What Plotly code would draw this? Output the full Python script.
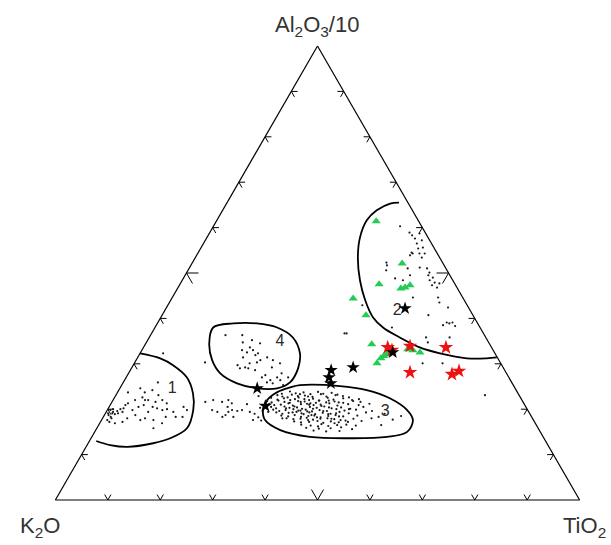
import plotly.graph_objects as go

# All compositions in % : a = Al2O3/10, c = TiO2, K2O = 100 - a - c
FIELD1_A = [32.3, 31.2, 29.7, 27.0, 23.5, 19.8, 15.8, 13.6, 12.5, 11.7, 12.1, 13.0]
FIELD1_C = [0.0, 4.4, 7.6, 11.6, 14.5, 16.4, 17.2, 15.1, 12.4, 7.9, 4.4, 1.3]
FIELD2_A = [65.5, 65.3, 63.8, 61.6, 57.8, 53.4, 48.4, 44.0, 40.2, 38.0, 35.8, 33.6, 32.3, 31.2, 31.2, 31.4]
FIELD2_C = [32.8, 31.2, 29.4, 28.6, 29.2, 31.0, 33.9, 37.1, 40.5, 43.5, 47.8, 52.7, 57.2, 62.9, 66.7, 68.5]
FIELD3_A = [25.3, 25.1, 24.2, 22.4, 19.8, 17.6, 15.0, 13.9, 13.6, 13.9, 15.4, 17.6, 19.8, 22.0, 23.7, 24.8, 25.3]
FIELD3_C = [34.0, 41.7, 47.3, 52.6, 57.2, 59.4, 59.6, 56.3, 49.4, 41.6, 35.2, 31.2, 29.7, 29.4, 30.4, 32.4, 34.0]
FIELD4_A = [38.0, 38.9, 38.9, 38.0, 35.8, 32.3, 29.0, 25.9, 24.6, 24.6, 25.7, 27.9, 30.8, 34.5, 38.0]
FIELD4_C = [11.1, 14.5, 19.0, 23.3, 27.4, 30.5, 31.8, 31.8, 30.0, 26.2, 21.8, 17.5, 14.5, 12.1, 11.1]

FIELD_LABELS = ["1", "2", "3", "4"]
LABEL_A = [24.4, 41.6, 19.4, 34.7]
LABEL_C = [10.1, 44.4, 53.2, 25.5]

# Sample groups
GREEN_A = [61.4, 52.1, 47.5, 46.6, 46.8, 47.3, 44.4, 40.7, 34.3, 30.1, 31.2, 31.7, 32.1, 32.5, 33.2, 33.0, 32.5]
GREEN_C = [30.5, 40.1, 38.0, 42.6, 43.3, 44.0, 34.6, 38.9, 43.2, 46.3, 46.5, 46.8, 47.2, 47.6, 50.6, 51.7, 53.3]
RED_A = [33.6, 33.0, 33.9, 33.6, 28.1, 27.7, 28.4]
RED_C = [46.6, 47.7, 50.7, 57.7, 53.6, 61.8, 62.8]
BLACK_A = [42.2, 32.5, 29.2, 28.6, 27.0, 25.7, 24.6, 20.7]
BLACK_C = [45.6, 48.1, 42.2, 38.3, 38.7, 39.7, 26.2, 29.7]

# Reference population (small dots)
DOT1_A = [23.7, 24.6, 23.7, 24.2, 23.1, 22.6, 22.0, 22.0, 21.6, 22.0, 21.3, 20.9, 20.5, 20.5, 20.2,
          19.8, 19.4, 20.0, 19.4, 19.8, 21.3, 18.7, 18.0, 17.6, 18.3, 17.6, 18.3, 19.8, 16.9, 18.0,
          17.2, 16.9, 18.3, 22.0, 25.9, 32.3, 20.5, 19.8, 19.4, 19.6, 19.1, 19.1, 20.0, 18.9, 19.1,
          19.4, 20.2, 20.9, 20.0, 18.7, 17.6, 17.2, 18.0, 18.3, 15.8]
DOT1_C = [2.0, 3.9, 5.2, 6.4, 8.1, 5.3, 4.2, 6.7, 8.3, 9.4, 10.6, 6.4, 5.6, 8.3, 9.3,
          10.5, 8.0, 11.3, 12.8, 4.8, 3.2, 5.9, 8.1, 7.4, 11.9, 9.9, 15.1, 15.2, 11.9, 4.7,
          4.2, 2.9, 1.4, 6.1, 6.6, 4.4, 14.2, 0.6, 1.3, 2.0, 2.4, 1.3, 2.4, 1.9, 0.5,
          3.1, 2.9, 2.9, 1.0, 0.8, 1.1, 1.7, 1.7, 13.8, 10.8]
DOT_MID_A = [30.3, 21.6, 22.0, 21.6, 19.8, 19.4, 18.7, 19.8, 19.6, 19.8, 22.0, 17.6, 20.5, 21.3,
             18.3, 19.4, 18.3, 19.4, 21.1, 36.7, 22.9]
DOT_MID_C = [13.4, 17.8, 19.1, 21.0, 20.0, 21.2, 23.1, 23.8, 24.9, 25.7, 22.0, 28.9, 22.6, 23.0,
             22.7, 27.4, 24.8, 23.3, 26.0, 36.8, 27.3]
DOT4_A = [36.3, 36.3, 34.7, 33.6, 33.0, 32.5, 33.0, 32.3, 30.8, 30.3, 31.4, 30.1, 31.4, 30.8, 30.1,
          29.2, 27.5, 26.4, 27.0, 27.9, 26.4, 25.9, 27.0, 29.7, 29.0, 28.6, 34.5, 35.2, 29.0, 27.0,
          25.7, 25.3, 31.9, 29.2]
DOT4_C = [14.3, 17.5, 18.4, 20.3, 19.1, 20.3, 21.2, 22.5, 23.7, 23.3, 20.1, 22.0, 24.7, 26.1, 27.8,
          26.7, 26.3, 27.8, 28.8, 29.2, 29.7, 27.4, 30.9, 19.9, 22.3, 23.8, 21.8, 19.9, 20.7, 25.9,
          28.6, 30.8, 22.2, 21.6]
DOT2_A = [60.3, 58.9, 58.3, 57.6, 58.7, 57.2, 56.5, 55.6, 55.4, 54.5, 54.3, 54.3, 54.3, 53.4, 53.9,
          52.3, 51.7, 50.6, 51.2, 51.0, 50.1, 49.5, 49.0, 48.4, 47.9, 47.3, 46.8, 47.7, 48.8, 48.4,
          49.5, 51.0, 44.6, 43.5, 42.4, 44.6, 39.1, 38.9, 39.1, 38.5, 38.3, 40.7, 38.0, 36.7, 42.9,
          35.8, 34.7, 35.8, 30.1, 30.1, 23.1]
DOT2_C = [35.6, 38.1, 38.9, 39.8, 40.1, 41.3, 40.7, 42.3, 41.5, 40.7, 41.0, 42.3, 43.3, 43.2, 40.7,
          37.0, 37.4, 37.8, 43.9, 45.4, 46.3, 46.4, 47.5, 47.2, 48.4, 48.2, 49.4, 49.4, 40.4, 42.1,
          42.9, 41.7, 50.7, 51.5, 53.7, 45.9, 55.1, 55.7, 56.2, 54.7, 57.1, 50.8, 45.2, 37.2, 37.1,
          52.8, 53.7, 57.3, 58.8, 55.0, 70.4]
DOT3_A = [23.9, 23.5, 23.7, 23.3, 23.8, 23.4, 23.6, 23.2,
          23.1, 22.8, 23.2, 22.9, 23.0, 22.7, 23.3, 22.8, 23.1, 22.9, 22.6,
          22.5, 22.1, 22.4, 22.0, 22.6, 22.2, 22.3, 21.9, 22.5, 22.1, 22.4, 22.0, 22.2,
          21.8, 21.5, 21.9, 21.6, 21.4, 21.8, 21.7, 21.3, 21.9, 21.5, 21.7, 21.4, 21.8, 21.6,
          21.2, 20.9, 21.0, 21.3, 20.8, 21.1, 21.2, 20.9, 21.0, 21.3, 20.8, 21.1, 20.9, 21.2,
          20.5, 20.2, 20.6, 20.3, 20.4, 20.1, 20.5, 20.3, 20.6, 20.2, 20.4, 20.1, 20.5,
          19.9, 19.6, 19.8, 20.0, 19.7, 19.9, 19.5, 19.8, 19.6, 20.0, 19.7, 19.9, 19.6,
          19.3, 19.0, 19.2, 19.4, 19.1, 19.3, 18.9, 19.2, 19.0, 19.4, 19.1, 19.3, 19.0,
          18.6, 18.4, 18.7, 18.3, 18.5, 18.6, 18.2, 18.5, 18.7, 18.4, 18.6, 18.3, 18.5,
          18.0, 17.8, 17.9, 18.1, 17.7, 17.9, 18.0, 17.8, 17.6, 17.9, 18.0, 17.7,
          17.3, 17.1, 17.2, 17.4, 17.0, 17.3, 17.1, 17.2, 17.4,
          16.6, 16.4, 16.7, 16.3, 16.5, 16.6, 16.4, 16.5,
          15.9, 15.7, 15.8, 16.0, 15.6,
          15.3, 15.1, 15.2,
          23.4, 22.6, 22.2, 21.6, 21.0, 20.6, 20.2, 19.7, 19.3, 18.9, 18.7, 19.5, 20.1, 20.7,
          21.4, 22.0, 22.8, 23.3, 21.9, 20.4, 19.6, 18.9, 18.2, 17.6, 17.9, 18.4, 19.1, 20.0,
          21.5, 17.5, 16.9, 16.2, 19.4, 20.9, 18.0, 19.0, 18.2, 20.3, 17.5]
DOT3_C = [32.8, 34.1, 35.5, 37.0, 38.2, 39.4, 40.9, 42.2,
          30.8, 31.9, 33.5, 34.8, 36.1, 37.7, 39.0, 40.3, 41.9, 43.4, 44.7,
          29.9, 31.3, 32.4, 33.8, 35.1, 36.4, 38.0, 39.3, 40.7, 42.0, 43.7, 45.6, 46.8,
          29.5, 30.5, 31.6, 32.9, 34.0, 35.4, 36.7, 38.0, 39.4, 40.9, 42.4, 44.2, 45.9, 47.4,
          30.2, 31.3, 32.5, 33.8, 34.9, 36.3, 37.4, 38.8, 40.1, 41.6, 43.4, 45.3, 47.4, 49.3,
          30.9, 32.0, 33.4, 34.5, 35.9, 37.0, 38.3, 39.7, 41.0, 42.6, 44.3, 46.2, 48.5,
          31.6, 32.9, 34.0, 35.4, 36.5, 37.8, 39.2, 40.5, 42.0, 43.6, 45.3, 47.4, 50.6,
          32.5, 33.8, 34.9, 36.3, 37.4, 38.8, 40.1, 41.4, 43.0, 44.5, 46.4, 49.6, 53.3,
          33.8, 35.2, 36.3, 37.7, 39.0, 40.1, 41.5, 42.8, 44.1, 45.7, 48.3, 52.5, 56.7,
          35.1, 36.5, 37.8, 38.9, 40.3, 41.6, 42.9, 44.3, 45.6, 47.9, 51.3, 55.5,
          36.9, 38.3, 39.8, 41.3, 42.6, 43.9, 45.5, 47.2, 49.7,
          38.6, 40.5, 42.4, 43.9, 45.5, 47.2, 49.1, 53.9,
          39.9, 42.4, 44.6, 46.5, 48.8,
          41.6, 44.1, 46.6,
          31.5, 33.0, 34.6, 36.0, 37.9, 35.3, 33.9, 36.9, 35.6, 37.9, 39.5, 38.3, 39.1, 40.4,
          39.0, 37.4, 36.8, 35.0, 41.2, 42.0, 41.3, 42.6, 40.8, 39.4, 43.7, 44.9, 44.0, 46.0,
          43.3, 46.6, 44.8, 42.0, 30.9, 29.8, 34.3, 28.5, 29.6, 28.9, 30.5]

TICKS = [10, 20, 30, 40, 50, 60, 70, 80, 90]
MAJOR_TICK = 50
SMALL_LEN, BIG_LEN = 1.2, 2.3


def k2o(a_list, c_list):
    return [None if a is None else 100 - a - c for a, c in zip(a_list, c_list)]


def tern(a, c, **kw):
    return go.Scatterternary(a=a, b=k2o(a, c), c=c, hoverinfo="skip", showlegend=False, **kw)


# chevron ticks: two short grid-line stubs from each tick position on every edge
ta, tc = [], []
for t in TICKS:
    L = BIG_LEN if t == MAJOR_TICK else SMALL_LEN
    # bottom edge (a = 0), position by TiO2 = t
    ta += [L, 0, L, None]
    tc += [t, t, t - L, None]
    # left edge (c = 0), Al2O3/10 = t
    ta += [t, t, t - L, None]
    tc += [L, 0, L, None]
    # right edge (b = 0), Al2O3/10 = t
    ta += [t, t, t - L, None]
    tc += [100 - t - L, 100 - t, 100 - t, None]

fig = go.Figure()
fig.add_trace(tern(ta, tc, mode="lines", line=dict(color="black", width=1)))

for fa, fc in [(FIELD1_A, FIELD1_C), (FIELD2_A, FIELD2_C), (FIELD3_A, FIELD3_C), (FIELD4_A, FIELD4_C)]:
    fig.add_trace(tern(fa, fc, mode="lines", line=dict(color="black", width=1.8, shape="spline", smoothing=1.0)))

for da, dc in [(DOT1_A, DOT1_C), (DOT_MID_A, DOT_MID_C), (DOT4_A, DOT4_C), (DOT2_A, DOT2_C), (DOT3_A, DOT3_C)]:
    fig.add_trace(tern(da, dc, mode="markers", marker=dict(color="#1a1a1a", size=2.2, line=dict(width=0))))

fig.add_trace(tern(LABEL_A, LABEL_C, mode="text", text=FIELD_LABELS,
                   textfont=dict(family="Liberation Sans", size=16, color="#2a2a2a")))

fig.add_trace(tern(GREEN_A, GREEN_C, mode="markers",
                   marker=dict(symbol="triangle-up", color="#22cc55", size=8, line=dict(width=0))))
fig.add_trace(tern(RED_A, RED_C, mode="markers",
                   marker=dict(symbol="star", color="#ee1111", size=11, line=dict(width=0))))
fig.add_trace(tern(BLACK_A, BLACK_C, mode="markers",
                   marker=dict(symbol="star", color="#000000", size=10, line=dict(width=0))))

axis = dict(showgrid=False, showticklabels=False, ticks="", linecolor="black", linewidth=1.2,
            title=dict(text=""), min=0)

L_M, R_M, T_M, B_M = 55, 31, 46, 45
W, H = 611, 545
pw, ph = W - L_M - R_M, H - T_M - B_M


def px(x):
    return (x - L_M) / pw


def py(y):
    return (H - B_M - y) / ph


TITLE_FONT = dict(family="Liberation Sans", size=22, color="#333333")
fig.update_layout(
    width=W, height=H,
    margin=dict(l=L_M, r=R_M, t=T_M, b=B_M, pad=0),
    paper_bgcolor="white", plot_bgcolor="white",
    ternary=dict(sum=100, bgcolor="white", aaxis=axis, baxis=axis, caxis=axis,
                 domain=dict(x=[0, 1], y=[0, 1])),
    font=dict(family="Liberation Sans", color="#222222"),
    annotations=[
        dict(text="Al<sub>2</sub>O<sub>3</sub>/10", x=px(317), y=py(26), xref="paper", yref="paper",
             showarrow=False, font=TITLE_FONT, xanchor="center", yanchor="middle"),
        dict(text="K<sub>2</sub>O", x=px(40), y=py(527), xref="paper", yref="paper",
             showarrow=False, font=TITLE_FONT, xanchor="center", yanchor="middle"),
        dict(text="TiO<sub>2</sub>", x=px(584), y=py(527), xref="paper", yref="paper",
             showarrow=False, font=TITLE_FONT, xanchor="center", yanchor="middle"),
    ],
)

fig.write_html("out.html")
